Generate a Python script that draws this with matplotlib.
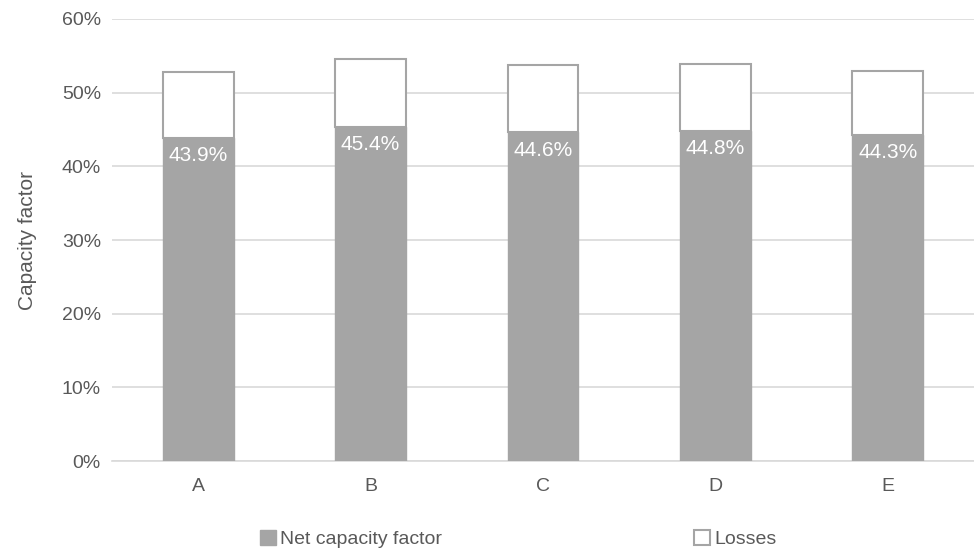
import numpy as np
import matplotlib.pyplot as plt

plt.rcParams['font.family'] = ['Liberation Sans Narrow', 'Liberation Sans', 'DejaVu Sans']

categories = ['A', 'B', 'C', 'D', 'E']
net_cf = [43.9, 45.4, 44.6, 44.8, 44.3]
losses = [8.9, 9.1, 9.1, 9.1, 8.7]

txt = '#595959'
fig = plt.figure(figsize=(9.74, 5.57), dpi=100)
ax = fig.add_axes([0.115, 0.172, 0.885, 0.794])

x = np.arange(len(categories))
b1 = ax.bar(x, net_cf, width=0.41, color='#a5a5a5', edgecolor='#a5a5a5',
            linewidth=1, label='Net capacity factor', zorder=3)
b2 = ax.bar(x, losses, width=0.41, bottom=net_cf, color='white',
            edgecolor='#a5a5a5', linewidth=1.5, label='Losses', zorder=3)

for xi, v in zip(x, net_cf):
    ax.annotate(f'{v:.1f}%', (xi, v), xytext=(0, -6), textcoords='offset points',
                ha='center', va='top', color='white', fontsize=15, zorder=4)

ax.set_xlim(-0.5, len(categories) - 0.5)
ax.set_ylim(0, 60)
ax.set_yticks(np.arange(0, 61, 10))
ax.set_yticklabels([f'{v}%' for v in range(0, 61, 10)])
ax.set_xticks(x)
ax.set_xticklabels(categories)
ax.tick_params(length=0, colors=txt, labelsize=14)
ax.tick_params(axis='x', pad=12)
ax.tick_params(axis='y', pad=8)
ax.yaxis.grid(True, color='#d9d9d9', linewidth=1.2, zorder=0)
for s in ['top', 'right', 'left']:
    ax.spines[s].set_visible(False)
ax.spines['bottom'].set_color('#d9d9d9')
ax.spines['bottom'].set_linewidth(1.2)
ax.set_ylabel('Capacity factor', color=txt, fontsize=15, labelpad=18)

fig.legend(handles=[b1, b2], loc='lower center', bbox_to_anchor=(0.532, -0.015),
           ncol=2, frameon=False, fontsize=14, labelcolor=txt,
           handlelength=0.8, handleheight=0.8, handletextpad=0.2,
           columnspacing=13)

fig.savefig('out.png', dpi=100)
